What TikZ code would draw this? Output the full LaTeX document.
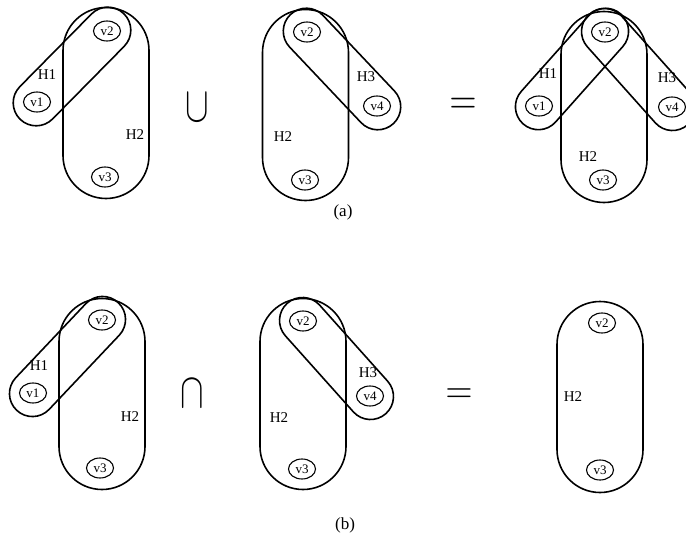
\documentclass[tikz,border=0pt]{standalone}
\usepackage{fontspec}
\setmainfont{Liberation Serif}
\usetikzlibrary{shapes.misc,shapes.geometric}
\begin{document}
\begin{tikzpicture}[x=1pt,y=-1pt,
  vtx/.style={draw, ellipse, line width=1.1pt, minimum width=27pt, minimum height=20pt, inner sep=0pt, font=\fontsize{13}{13}\selectfont},
  capsule/.style={draw, rounded rectangle, line width=1.6pt, inner sep=0pt, minimum height=46pt},
  tall/.style={draw, rounded rectangle, rotate=90, line width=1.6pt, inner sep=0pt, minimum height=86pt, minimum width=191pt},
  lab/.style={font=\fontsize{15}{15}\selectfont, inner sep=0pt},
  opsym/.style={font=\fontsize{20}{20}\selectfont, inner sep=0pt},
  captionlab/.style={font=\fontsize{17}{17}\selectfont, inner sep=0pt}
]
\useasboundingbox (0,0) rectangle (686,538);
% ---------- (a) ----------
% panel 1
\node[tall] (aH2) at (106,103) {};
\node[capsule, rotate=45.4, minimum width=148pt] (aH1) at (72,66.5) {};
\node[vtx] (av2) at (107,31) {v2};
\node[vtx] (av1) at (37,102) {v1};
\node[vtx] (av3) at (105,177) {v3};
\node[lab] (aH1l) at (47,75) {H1};
\node[lab] (aH2l) at (135,135) {H2};
\node[opsym] (acup) at (197,108) {\scalebox{1.7}[2.4]{$\cup$}};
% panel 2
\node[tall] (bH2) at (305.5,105) {};
\node[capsule, rotate=-46.6, minimum width=150pt] (bH3) at (342,69) {};
\node[vtx] (bv2) at (307,32) {v2};
\node[vtx] (bv4) at (377,106) {v4};
\node[vtx] (bv3) at (305,180) {v3};
\node[lab] (bH3l) at (366,77) {H3};
\node[lab] (bH2l) at (283,137) {H2};
\node[opsym] (aeq) at (463,106) {\scalebox{1.8}[2.2]{$=$}};
% panel 3
\node[tall] (cH2) at (604,107) {};
\node[capsule, rotate=48.3, minimum width=147pt] (cH1) at (572,69) {};
\node[capsule, rotate=-48.2, minimum width=148pt] (cH3) at (638.5,69.5) {};
\node[vtx] (cv2) at (605,32) {v2};
\node[vtx] (cv1) at (539,106) {v1};
\node[vtx] (cv4) at (672,107) {v4};
\node[vtx] (cv3) at (603,180) {v3};
\node[lab] (cH1l) at (548,74) {H1};
\node[lab] (cH3l) at (667,78) {H3};
\node[lab] (cH2l) at (588,157) {H2};
\node[captionlab] (alabel) at (343,212) {(a)};
% ---------- (b) ----------
% panel 1
\node[tall] (dH2) at (102,394) {};
\node[capsule, rotate=46.6, minimum width=148pt] (dH1) at (67.5,356.5) {};
\node[vtx] (dv2) at (102,320) {v2};
\node[vtx] (dv1) at (33,393) {v1};
\node[vtx] (dv3) at (100,468) {v3};
\node[lab] (dH1l) at (39,366) {H1};
\node[lab] (dH2l) at (130,417) {H2};
\node[opsym] (dcap) at (192,394) {\scalebox{1.7}[2.4]{$\cap$}};
% panel 2
\node[tall] (eH2) at (303,394) {};
\node[capsule, rotate=-48.2, minimum width=148pt] (eH3) at (336.5,358.5) {};
\node[vtx] (ev2) at (303,321) {v2};
\node[vtx] (ev4) at (370,396) {v4};
\node[vtx] (ev3) at (302,469) {v3};
\node[lab] (eH3l) at (368,373) {H3};
\node[lab] (eH2l) at (279,418) {H2};
\node[opsym] (beq) at (459,396) {\scalebox{1.8}[2.0]{$=$}};
% panel 3
\node[tall] (fH2) at (600,397) {};
\node[vtx] (fv2) at (602,323) {v2};
\node[vtx] (fv3) at (600,470) {v3};
\node[lab] (fH2l) at (573,397) {H2};
\node[captionlab] (blabel) at (345,525) {(b)};
\end{tikzpicture}
\end{document}
